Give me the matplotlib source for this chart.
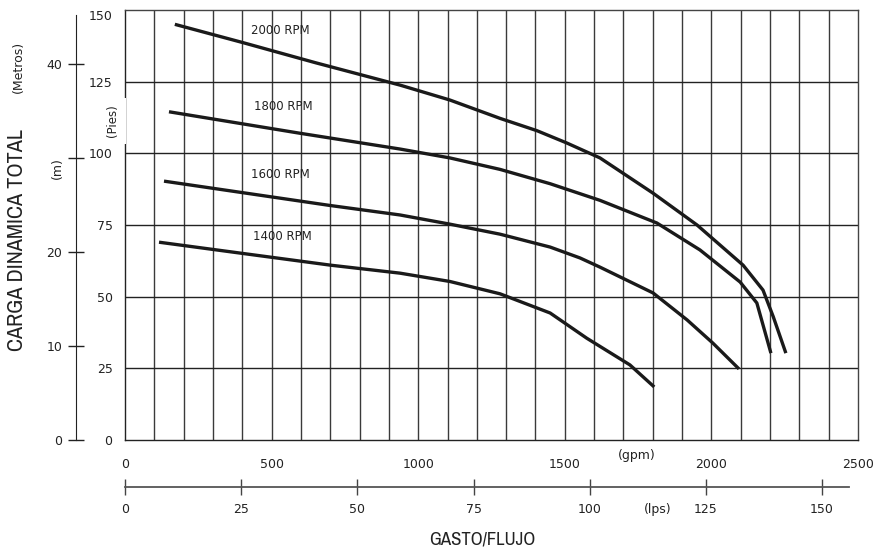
import matplotlib
matplotlib.use("Agg")
import matplotlib.pyplot as plt
from matplotlib import font_manager

# --- Data (gpm vs feet) ---
rpm_labels = ["2000 RPM", "1800 RPM", "1600 RPM", "1400 RPM"]

rpm2000_gpm = [170, 403, 650, 938, 1108, 1279, 1405, 1507, 1620, 1801, 1951, 2108, 2176, 2211, 2254]
rpm2000_ft = [145, 138.6, 131.6, 123.8, 118.6, 112.2, 107.9, 103.6, 98.4, 86.1, 75, 61, 52.3, 43, 30.3]

rpm1800_gpm = [150, 597, 938, 1108, 1279, 1450, 1620, 1814, 1961, 2098, 2155, 2203]
rpm1800_ft = [114.5, 107, 101.5, 98.4, 94.4, 89.4, 83.6, 75.7, 66.3, 55.1, 47.8, 30.3]

rpm1600_gpm = [133, 400, 700, 938, 1108, 1279, 1450, 1552, 1620, 1801, 1917, 2005, 2094]
rpm1600_ft = [90.3, 86.3, 81.8, 78.5, 75.3, 71.8, 67.3, 63.5, 60.3, 51.3, 41.9, 33.8, 24.8]

rpm1400_gpm = [116, 400, 700, 938, 1108, 1279, 1450, 1575, 1722, 1805]
rpm1400_ft = [69, 65.1, 61, 58.2, 55.3, 51, 44.3, 35.5, 26.2, 18.5]

label_gpm = [430, 440, 430, 435]
label_ft = [143, 116.5, 92.5, 71]

gpm_ticks = [0, 500, 1000, 1500, 2000, 2500]
ft_ticks = [0, 25, 50, 75, 100, 125, 150]
m_ticks = [0, 10, 20, 30, 40]
m_tick_labels = ["0", "10", "20", "", "40"]
lps_ticks = [0, 25, 50, 75, 100, 125, 150]

GPM_PER_LPS = 15.85
FT_PER_M = 3.2808

# look for a narrow / condensed face for the big titles
narrow = None
for f in font_manager.fontManager.ttflist:
    if "Narrow" in f.name or "Condensed" in f.name:
        narrow = dict(family=f.name)
        break
    if str(f.stretch) in ("condensed", "semi-condensed", "extra-condensed", "ultra-condensed"):
        narrow = dict(family=f.name, fontstretch=f.stretch)
if narrow is None:
    narrow = dict(family="DejaVu Sans", fontstretch="condensed")

W, H = 877, 555
fig = plt.figure(figsize=(W / 100, H / 100), dpi=100)


def px(x0, y0, x1, y1):
    # figure rect from pixel box
    return [x0 / W, 1 - y1 / H, (x1 - x0) / W, (y1 - y0) / H]


ax = fig.add_axes(px(125, 10, 858, 440))
ax.set_xlim(0, 2500)
ax.set_ylim(0, 150)

for g in range(100, 2500, 100):
    ax.axvline(g, color="#3a3a3a", lw=1.0, zorder=1)
for f in ft_ticks[1:-1]:
    ax.axhline(f, color="#222222", lw=1.0, zorder=1)

curves = [(rpm2000_gpm, rpm2000_ft), (rpm1800_gpm, rpm1800_ft),
          (rpm1600_gpm, rpm1600_ft), (rpm1400_gpm, rpm1400_ft)]
for (gx, fy) in curves:
    ax.plot(gx, fy, color="#1a1a1a", lw=2.4, solid_capstyle="butt",
            solid_joinstyle="round", zorder=3)

for lab, lx, ly in zip(rpm_labels, label_gpm, label_ft):
    ax.text(lx, ly, lab, fontsize=8.5, color="#222222", ha="left", va="center", zorder=4)

for s in ax.spines.values():
    s.set_color("#444444")
    s.set_linewidth(1.0)
ax.spines["left"].set_color("#222222")
ax.spines["bottom"].set_color("#222222")

ax.set_xticks(gpm_ticks)
ax.set_yticks(ft_ticks)
ax.tick_params(axis="x", length=0, pad=13, labelsize=9, labelcolor="#222222")
ax.tick_params(axis="y", length=0, pad=9, labelsize=9, labelcolor="#222222")
ax.yaxis.get_major_ticks()[-1].label1.set_va("top")

# (Pies) with a white patch over the left spine
fig.text(113 / W, 1 - 121 / H, "(Pies)", rotation=90, fontsize=8.5, color="#222222",
         ha="center", va="center",
         bbox=dict(facecolor="white", edgecolor="none", pad=5))
fig.text(637 / W, 1 - 455 / H, "(gpm)", fontsize=9, color="#222222", ha="center", va="center")

# metres axis
axm = fig.add_axes(px(76, 15, 77, 440))
axm.set_ylim(0, (440 - 15) / 430 * 150 / FT_PER_M)
axm.set_xticks([])
for k in ["top", "right", "bottom"]:
    axm.spines[k].set_visible(False)
axm.spines["left"].set_color("#222222")
axm.set_yticks(m_ticks)
axm.set_yticklabels(m_tick_labels)
axm.tick_params(axis="y", direction="inout", length=12, width=1.0, color="#222222",
                pad=4, labelsize=9, labelcolor="#222222")
axm.patch.set_visible(False)

fig.text(18 / W, 1 - 67 / H, "(Metros)", rotation=90, fontsize=9, color="#222222",
         ha="center", va="center")
fig.text(57 / W, 1 - 168 / H, "(m)", rotation=90, fontsize=9, color="#222222",
         ha="center", va="center")
fig.text(17 / W, 1 - 240 / H, "CARGA DINAMICA TOTAL", rotation=90, fontsize=16,
         color="#222222", ha="center", va="center", **narrow)

# lps axis
lps_right = (849 - 125) / (858 - 125) * 2500 / GPM_PER_LPS
axl = fig.add_axes(px(125, 486, 849, 487))
axl.set_xlim(0, lps_right)
axl.set_yticks([])
for k in ["top", "right", "left"]:
    axl.spines[k].set_visible(False)
axl.spines["bottom"].set_color("#555555")
axl.spines["bottom"].set_linewidth(1.3)
axl.set_xticks(lps_ticks)
axl.tick_params(axis="x", direction="inout", length=11, width=1.0, color="#444444",
                pad=6, labelsize=9, labelcolor="#222222")
axl.patch.set_visible(False)

fig.text(658 / W, 1 - 510 / H, "(lps)", fontsize=9, color="#222222", ha="center", va="center")
fig.text(482 / W, 1 - 539 / H, "GASTO/FLUJO", fontsize=13.5, color="#222222",
         ha="center", va="center", **narrow)

fig.savefig("out.png", dpi=100)
